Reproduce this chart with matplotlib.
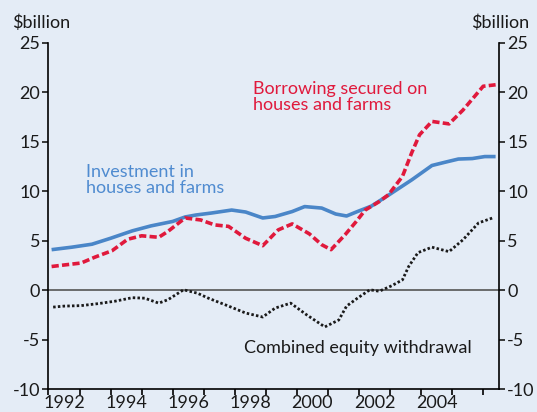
import matplotlib
matplotlib.use('Agg')
import matplotlib.pyplot as plt

# dữ liệu ($ tỷ)
inv_x = [1992.1, 1992.75, 1993.4, 1994.0, 1994.7, 1995.3, 1996.0, 1996.4, 1996.75,
         1997.25, 1997.9, 1998.35, 1998.9, 1999.3, 1999.85, 2000.25, 2000.8, 2001.25,
         2001.6, 2001.95, 2002.4, 2002.95, 2003.7, 2004.35, 2004.8, 2005.2, 2005.65,
         2006.05, 2006.4]
inv_y = [4.1, 4.35, 4.65, 5.25, 6.0, 6.5, 6.95, 7.4, 7.6,
         7.8, 8.1, 7.9, 7.3, 7.45, 7.95, 8.45, 8.3, 7.7,
         7.5, 7.95, 8.5, 9.6, 11.15, 12.6, 12.95, 13.25, 13.3,
         13.5, 13.5]

bor_x = [1992.1, 1992.5, 1993.05, 1993.5, 1994.05, 1994.55, 1995.0, 1995.55, 1995.85,
         1996.4, 1996.9, 1997.35, 1997.8, 1998.35, 1998.9, 1999.4, 1999.85, 2000.4,
         2000.8, 2001.1, 2001.55, 2001.9, 2002.2, 2002.65, 2002.95, 2003.4, 2003.7,
         2003.95, 2004.35, 2004.9, 2005.35, 2006.0, 2006.4]
bor_y = [2.4, 2.55, 2.75, 3.35, 4.0, 5.15, 5.5, 5.35, 5.95,
         7.3, 7.1, 6.6, 6.45, 5.25, 4.5, 6.1, 6.7, 5.7,
         4.6, 4.1, 5.6, 6.9, 8.1, 8.95, 9.65, 11.5, 13.9,
         15.7, 17.05, 16.8, 18.2, 20.6, 20.75]

eq_x = [1992.15, 1992.5, 1993.05, 1993.6, 1994.15, 1994.7, 1995.1, 1995.55, 1995.85,
        1996.35, 1996.8, 1997.15, 1997.8, 1998.35, 1998.9, 1999.3, 1999.8, 2000.3,
        2000.9, 2001.35, 2001.6, 2001.95, 2002.35, 2002.65, 2003.05, 2003.4, 2003.6,
        2003.9, 2004.35, 2004.9, 2005.35, 2005.85, 2006.3]
eq_y = [-1.7, -1.6, -1.55, -1.35, -1.1, -0.75, -0.8, -1.3, -0.95,
        0.05, -0.3, -0.8, -1.6, -2.3, -2.7, -1.8, -1.3, -2.45,
        -3.7, -3.0, -1.6, -0.8, 0.05, -0.1, 0.45, 1.05, 2.4,
        3.8, 4.35, 3.9, 5.1, 6.8, 7.3]

y_ticks = [-10, -5, 0, 5, 10, 15, 20, 25]
year_labels = ['1992', '1994', '1996', '1998', '2000', '2002', '2004']

bg = '#e4ecf6'
plt.rcParams['font.family'] = ['Lato', 'DejaVu Sans']

fig = plt.figure(figsize=(5.37, 4.12), dpi=100, facecolor=bg)
ax = fig.add_axes([0.0903, 0.0551, 0.8384, 0.8413], facecolor=bg)

ax.axhline(0, color='#555555', lw=1.2, zorder=1)
ax.plot(inv_x, inv_y, color='#4a86c8', lw=2.6, solid_capstyle='butt', zorder=3)
ax.plot(bor_x, bor_y, color='#e0193c', lw=2.6, dashes=(2, 0.9), zorder=4)
ax.plot(eq_x, eq_y, color='#1a1a1a', lw=2.0, dashes=(0.9, 0.8), zorder=3)

ax.set_xlim(1992, 2006.5)
ax.set_ylim(-10, 25)

ax.spines['top'].set_visible(False)
for s in ['left', 'right', 'bottom']:
    ax.spines[s].set_linewidth(1.2)

ax.set_yticks(y_ticks)
ax.set_yticklabels([str(v) for v in y_ticks])
ax.tick_params(axis='y', which='both', labelsize=13, length=4, width=1.2,
               left=True, right=True, labelleft=True, labelright=True, pad=2,
               colors='#1a1a1a')

ax.set_xticks(range(1992, 2007))
ax.set_xticklabels([])
ax.set_xticks([y + 0.5 for y in range(1992, 2006, 2)], minor=True)
ax.set_xticklabels(year_labels, minor=True)
ax.tick_params(axis='x', which='major', length=4, width=1.2)
ax.tick_params(axis='x', which='minor', length=0, labelsize=13, pad=4,
               colors='#1a1a1a')

fig.text(0.022, 0.925, '$billion', fontsize=13, ha='left', va='bottom', color='#1a1a1a')
fig.text(0.985, 0.925, '$billion', fontsize=13, ha='right', va='bottom', color='#1a1a1a')

ax.text(1993.2, 12.7, 'Investment in\nhouses and farms', color='#4f8bd0',
        fontsize=13, ha='left', va='top', linespacing=1.0)
ax.text(1998.6, 21.1, 'Borrowing secured on\nhouses and farms', color='#e0193c',
        fontsize=13, ha='left', va='top', linespacing=1.0)
ax.text(1998.3, -5.8, 'Combined equity withdrawal', color='#1a1a1a',
        fontsize=13, ha='left', va='center')

fig.savefig('out.png', dpi=100, facecolor=bg)
